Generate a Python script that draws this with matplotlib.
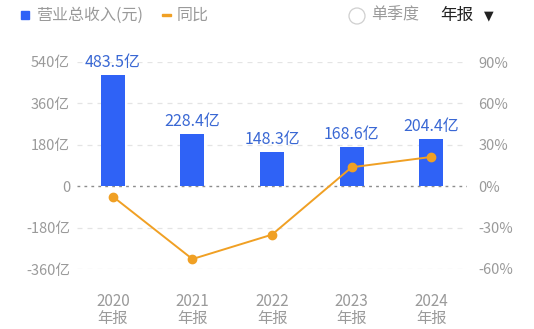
import matplotlib.pyplot as plt
from matplotlib.patches import Rectangle, Ellipse

plt.rcParams['font.family'] = ['Noto Sans CJK SC', 'DejaVu Sans']

years = ['2020', '2021', '2022', '2023', '2024']
revenue = [483.5, 228.4, 148.3, 168.6, 204.4]   # 亿元
yoy = [-7.5, -52.8, -35.1, 13.7, 21.2]           # %
left_ticks = [-360, -180, 0, 180, 360, 540]
right_ticks = [-60, -30, 0, 30, 60, 90]

bar_color = '#2f62f6'
line_color = '#f0a024'
grey = '#9a9a9a'

fig = plt.figure(figsize=(5.34, 3.29), dpi=100)
W, H = 534, 329
ax = fig.add_axes([77 / W, (H - 269) / H, (467 - 77) / W, (269 - 62) / H])
ax2 = ax.twinx()

x = list(range(len(years)))
ax.bar(x, revenue, width=0.3, color=bar_color, zorder=2)
for xi, v in zip(x, revenue):
    ax.annotate(f'{v}亿', (xi, v), xytext=(0, 3), textcoords='offset points',
                ha='center', va='bottom', fontsize=11.5, color='#3a68d4')

ax.set_ylim(-360, 540)
ax.set_xlim(-0.45, 4.45)
ax.set_yticks(left_ticks)
ax.set_yticklabels([f'{t}亿' if t != 0 else '0' for t in left_ticks])
for t in left_ticks:
    if t == 0:
        ax.axhline(0, color='#8c8c8c', lw=1.0, ls=(0, (2, 3)), zorder=1)
    else:
        ax.axhline(t, color='#e4e4e4', lw=0.9, ls=(0, (4, 4)), zorder=0)

ax2.plot(x, yoy, color=line_color, lw=1.4, marker='o', ms=6, zorder=3)
ax2.set_ylim(-60, 90)
ax2.set_yticks(right_ticks)
ax2.set_yticklabels([f'{t}%' for t in right_ticks])

ax.set_xticks(x)
ax.set_xticklabels([f'{y}\n年报' for y in years], linespacing=1.0)

for a in (ax, ax2):
    for s in a.spines.values():
        s.set_visible(False)
    a.tick_params(length=0, colors=grey, labelsize=10.5)
ax.tick_params(axis='y', pad=5)
ax2.tick_params(axis='y', pad=8)
ax.tick_params(axis='x', pad=17, labelsize=11)

# legend row and period selector
fig.patches.append(Rectangle((21 / W, 1 - 19 / H), 8 / W, 8 / H, color=bar_color,
                             transform=fig.transFigure))
fig.text(36 / W, 1 - 15 / H, '营业总收入(元)', fontsize=11.5, color=grey, va='center')
fig.patches.append(Rectangle((162 / W, 1 - 16 / H), 9 / W, 2.5 / H, color=line_color,
                             transform=fig.transFigure))
fig.text(177 / W, 1 - 15 / H, '同比', fontsize=11.5, color=grey, va='center')
fig.patches.append(Ellipse((357 / W, 1 - 16 / H), 16 / W, 16 / H, fill=False,
                           ec='#cfcfcf', lw=0.9, transform=fig.transFigure))
fig.text(371 / W, 1 - 15 / H, '单季度', fontsize=11.5, color=grey, va='center')
fig.text(440 / W, 1 - 15 / H, '年报', fontsize=12, color='#222222', va='center',
         fontweight='medium')
fig.text(489 / W, 1 - 16 / H, '▼', fontsize=9, color='#222222', va='center', ha='center',
         family=['DejaVu Sans'])

fig.savefig('out.png', dpi=100)
